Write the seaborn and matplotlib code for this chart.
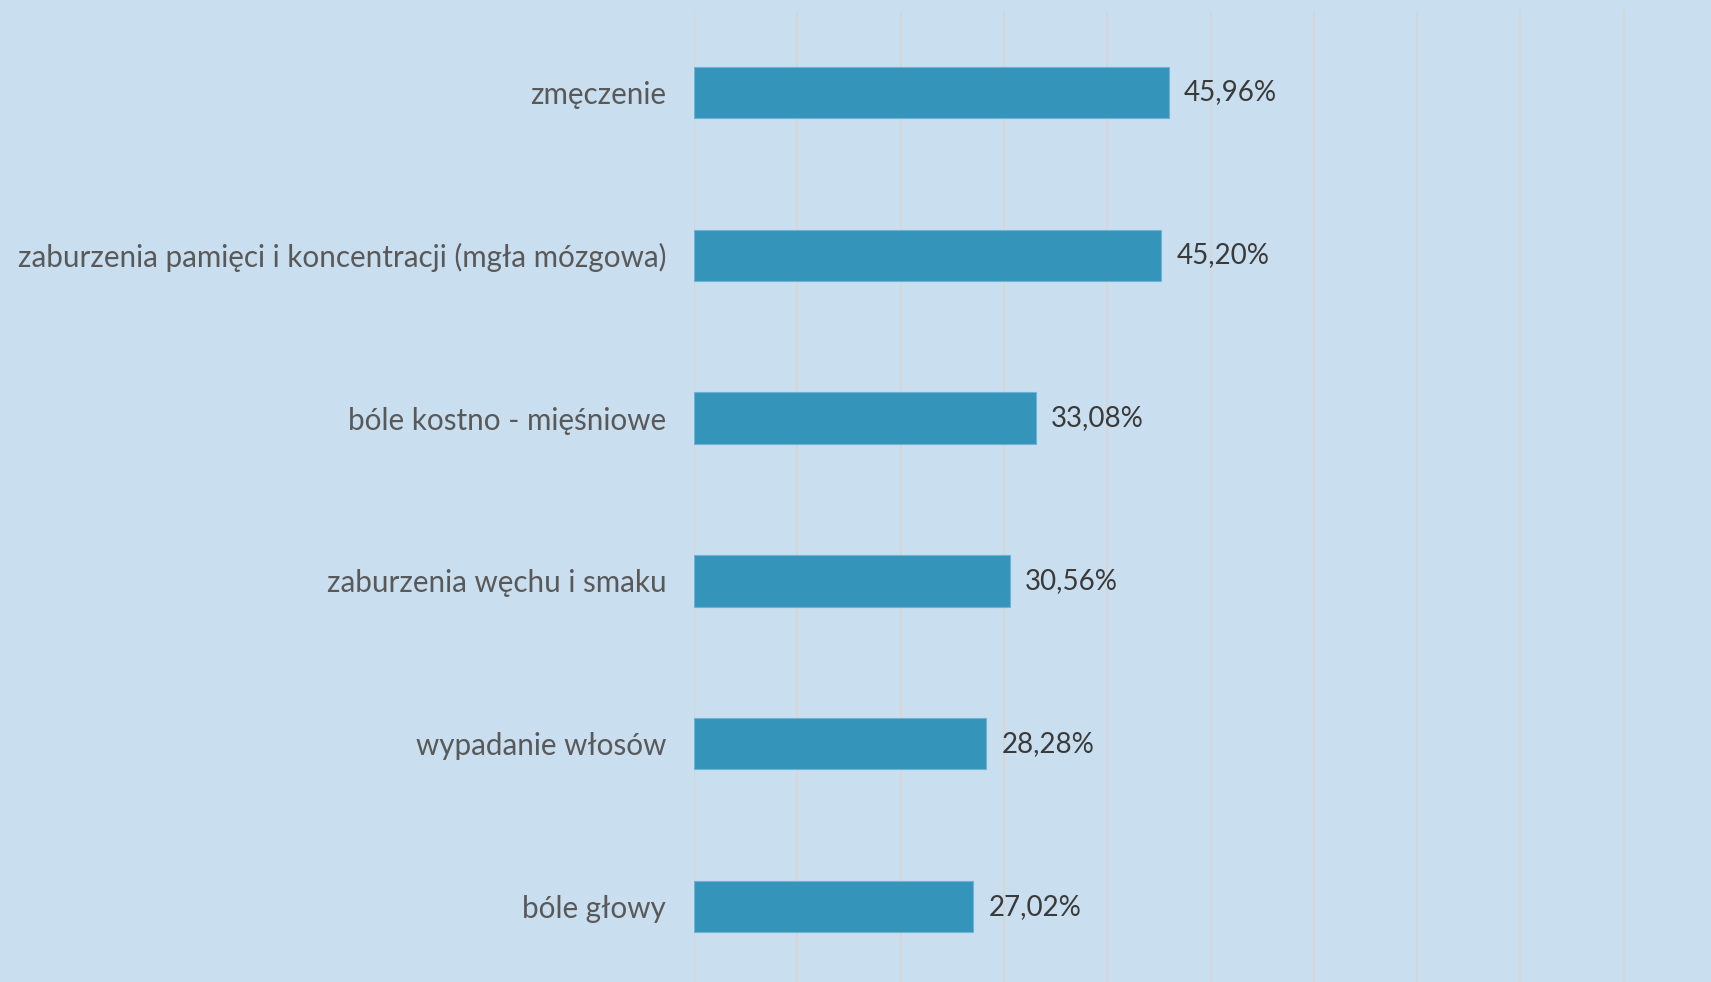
import pandas as pd
import matplotlib
matplotlib.use('Agg')
from matplotlib import pyplot as plt
import seaborn as sb

# data
categories = ['zmęczenie',
              'zaburzenia pamięci i koncentracji (mgła mózgowa)',
              'bóle kostno - mięśniowe',
              'zaburzenia węchu i smaku',
              'wypadanie włosów',
              'bóle głowy']
values = [45.96, 45.20, 33.08, 30.56, 28.28, 27.02]
value_labels = [f'{v:.2f}%'.replace('.', ',') for v in values]

bg = '#c9deef'
sb.set_style('white')
plt.rcParams['font.family'] = ['Lato', 'DejaVu Sans']

df = pd.DataFrame({'objaw': categories, 'procent': values})

fig = plt.figure(figsize=(17.11, 9.82), dpi=100, facecolor=bg)
ax = fig.add_axes([0.4056, -0.0061, 0.6038, 0.995])
ax.set_facecolor(bg)

sb.barplot(data=df, x='procent', y='objaw', color='#3494BA', saturation=1,
           width=0.315, edgecolor='#6fb2d3', linewidth=0.8, ax=ax)
ax.bar_label(ax.containers[0], labels=value_labels, padding=11,
             fontsize=20, color='#3a3a3a')

ax.set_xlim(0, 100)
ax.set_ylim(5.5, -0.5)
ax.set_xticks(range(0, 100, 10))
ax.grid(axis='x', color='#d6d6d6', linewidth=1.4)
ax.set_axisbelow(True)
ax.set_xticklabels([])
ax.set_xlabel('')
ax.set_ylabel('')
ax.tick_params(axis='y', length=0, pad=20, labelsize=21.3, labelcolor='#595959')
ax.tick_params(axis='x', length=0)
for s in ax.spines.values():
    s.set_visible(False)

fig.savefig('out.png', dpi=100, facecolor=bg)
